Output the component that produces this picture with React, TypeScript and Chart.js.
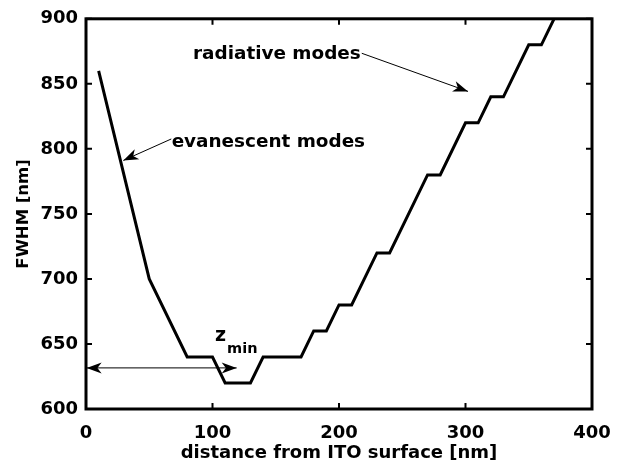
import React, { useEffect, useRef } from 'react';
import { Chart, registerables } from 'chart.js';

Chart.register(...registerables);

// ---- data ----
const distanceNm = [10, 50, 80, 100, 110, 130, 140, 170, 180, 190, 200, 210, 230, 240, 270, 280, 300, 310, 320, 330, 350, 360, 370];
const fwhmNm = [860, 700, 640, 640, 620, 620, 640, 640, 660, 660, 680, 680, 720, 720, 780, 780, 820, 820, 840, 840, 880, 880, 900];
const xTickValues = [0, 100, 200, 300, 400];
const yTickValues = [600, 650, 700, 750, 800, 850, 900];

// ---- annotation anchors (data units) ----
const radiativeLabel = { text: 'radiative modes', x: 84.6, y: 869 };
const radiativeArrow = { x0: 218, y0: 873.5, x1: 302, y1: 844.2 };
const evanescentLabel = { text: 'evanescent modes', x: 67.7, y: 801.5 };
const evanescentArrow = { x0: 67.4, y0: 807.6, x1: 29.5, y1: 791.1 };
const zLabel = { main: 'z', sub: 'min', x: 102, y: 652.3, subX: 111.5, subY: 642.8 };
const zArrow = { x0: 0.5, x1: 119.1, y: 631.6 };

const FONT = "'DejaVu Sans', 'Liberation Sans', sans-serif";

function arrowHead(ctx: CanvasRenderingContext2D, fx: number, fy: number, tx: number, ty: number) {
  const dx = tx - fx, dy = ty - fy;
  const len = Math.hypot(dx, dy);
  const ux = dx / len, uy = dy / len;
  const nx = -uy, ny = ux;
  const L = 15, W = 5.5;
  ctx.beginPath();
  ctx.moveTo(tx, ty);
  ctx.lineTo(tx - ux * L + nx * W, ty - uy * L + ny * W);
  ctx.lineTo(tx - ux * L * 0.72, ty - uy * L * 0.72);
  ctx.lineTo(tx - ux * L - nx * W, ty - uy * L - ny * W);
  ctx.closePath();
  ctx.fill();
}

const decorPlugin = {
  id: 'decor',
  afterDatasetsDraw(chart: any) {
    const { ctx, chartArea: a, scales } = chart;
    const xs = scales.x, ys = scales.y;
    ctx.save();
    ctx.strokeStyle = '#000';
    ctx.fillStyle = '#000';
    // frame
    ctx.lineWidth = 3;
    ctx.lineJoin = 'miter';
    ctx.strokeRect(a.left, a.top, a.right - a.left, a.bottom - a.top);
    // inward ticks
    ctx.lineWidth = 2;
    ctx.beginPath();
    xTickValues.forEach((v) => {
      const px = xs.getPixelForValue(v);
      ctx.moveTo(px, a.bottom); ctx.lineTo(px, a.bottom - 6);
      ctx.moveTo(px, a.top); ctx.lineTo(px, a.top + 6);
    });
    yTickValues.forEach((v) => {
      const py = ys.getPixelForValue(v);
      ctx.moveTo(a.left, py); ctx.lineTo(a.left + 6, py);
      ctx.moveTo(a.right, py); ctx.lineTo(a.right - 6, py);
    });
    ctx.stroke();

    // arrows
    ctx.lineWidth = 1;
    const P = (x: number, y: number) => [xs.getPixelForValue(x), ys.getPixelForValue(y)];
    const drawArrow = (x0: number, y0: number, x1: number, y1: number, both = false) => {
      const [a0, b0] = P(x0, y0);
      const [a1, b1] = P(x1, y1);
      ctx.beginPath();
      ctx.moveTo(a0, b0);
      ctx.lineTo(a1, b1);
      ctx.stroke();
      arrowHead(ctx, a0, b0, a1, b1);
      if (both) arrowHead(ctx, a1, b1, a0, b0);
    };
    drawArrow(radiativeArrow.x0, radiativeArrow.y0, radiativeArrow.x1, radiativeArrow.y1);
    drawArrow(evanescentArrow.x0, evanescentArrow.y0, evanescentArrow.x1, evanescentArrow.y1);
    drawArrow(zArrow.x0, zArrow.y, zArrow.x1, zArrow.y, true);

    // labels
    ctx.textBaseline = 'alphabetic';
    ctx.textAlign = 'left';
    ctx.font = `bold 18.4px ${FONT}`;
    let [tx, ty] = P(radiativeLabel.x, radiativeLabel.y);
    ctx.fillText(radiativeLabel.text, tx, ty);
    [tx, ty] = P(evanescentLabel.x, evanescentLabel.y);
    ctx.fillText(evanescentLabel.text, tx, ty);
    ctx.font = `bold 19px ${FONT}`;
    [tx, ty] = P(zLabel.x, zLabel.y);
    ctx.fillText(zLabel.main, tx, ty);
    ctx.font = `bold 14.5px ${FONT}`;
    [tx, ty] = P(zLabel.subX, zLabel.subY);
    ctx.fillText(zLabel.sub, tx, ty);
    ctx.restore();
  },
};

export default function App() {
  const ref = useRef<HTMLCanvasElement>(null);
  useEffect(() => {
    if (!ref.current) return;
    const tickFont = { family: FONT, weight: 'bold' as const, size: 18, lineHeight: 1.2 };
    const yTitleFont = { family: FONT, weight: 'bold' as const, size: 16.5, lineHeight: 1.2 };
    const chart = new Chart(ref.current, {
      type: 'line',
      data: {
        datasets: [
          {
            data: distanceNm.map((d, i) => ({ x: d, y: fwhmNm[i] })),
            borderColor: '#000',
            borderWidth: 3,
            pointRadius: 0,
            tension: 0,
            borderJoinStyle: 'miter',
            fill: false,
          },
        ],
      },
      options: {
        responsive: false,
        animation: false,
        layout: { padding: { top: 13, right: 30, left: 0, bottom: 0 } },
        plugins: { legend: { display: false }, tooltip: { enabled: false } },
        scales: {
          x: {
            type: 'linear',
            min: 0,
            max: 400,
            afterBuildTicks: (s: any) => { s.ticks = xTickValues.map((v) => ({ value: v })); },
            afterFit: (s: any) => { s.height = 61; s.paddingRight = 0; s.paddingLeft = 0; },
            grid: { display: false, drawTicks: false },
            border: { display: false },
            ticks: { color: '#000', font: tickFont, padding: 14, maxRotation: 0, autoSkip: false },
            title: {
              display: true,
              text: 'distance from ITO surface [nm]',
              color: '#000',
              font: tickFont,
              padding: { top: 0, bottom: 5.5 },
            },
          },
          y: {
            type: 'linear',
            min: 600,
            max: 900,
            afterBuildTicks: (s: any) => { s.ticks = yTickValues.map((v) => ({ value: v })); },
            afterFit: (s: any) => { s.width = 86; },
            grid: { display: false, drawTicks: false },
            border: { display: false },
            ticks: { color: '#000', font: tickFont, padding: 8, autoSkip: false },
            title: {
              display: true,
              text: 'FWHM [nm]',
              color: '#000',
              font: yTitleFont,
              padding: { top: 14, bottom: 0 },
            },
          },
        },
      },
      plugins: [decorPlugin],
    });
    return () => chart.destroy();
  }, []);
  return (
    <div style={{ position: 'absolute', left: 0, top: 0, width: 622, height: 470, background: '#fff' }}>
      <canvas ref={ref} width={622} height={470} style={{ display: 'block' }} />
    </div>
  );
}
